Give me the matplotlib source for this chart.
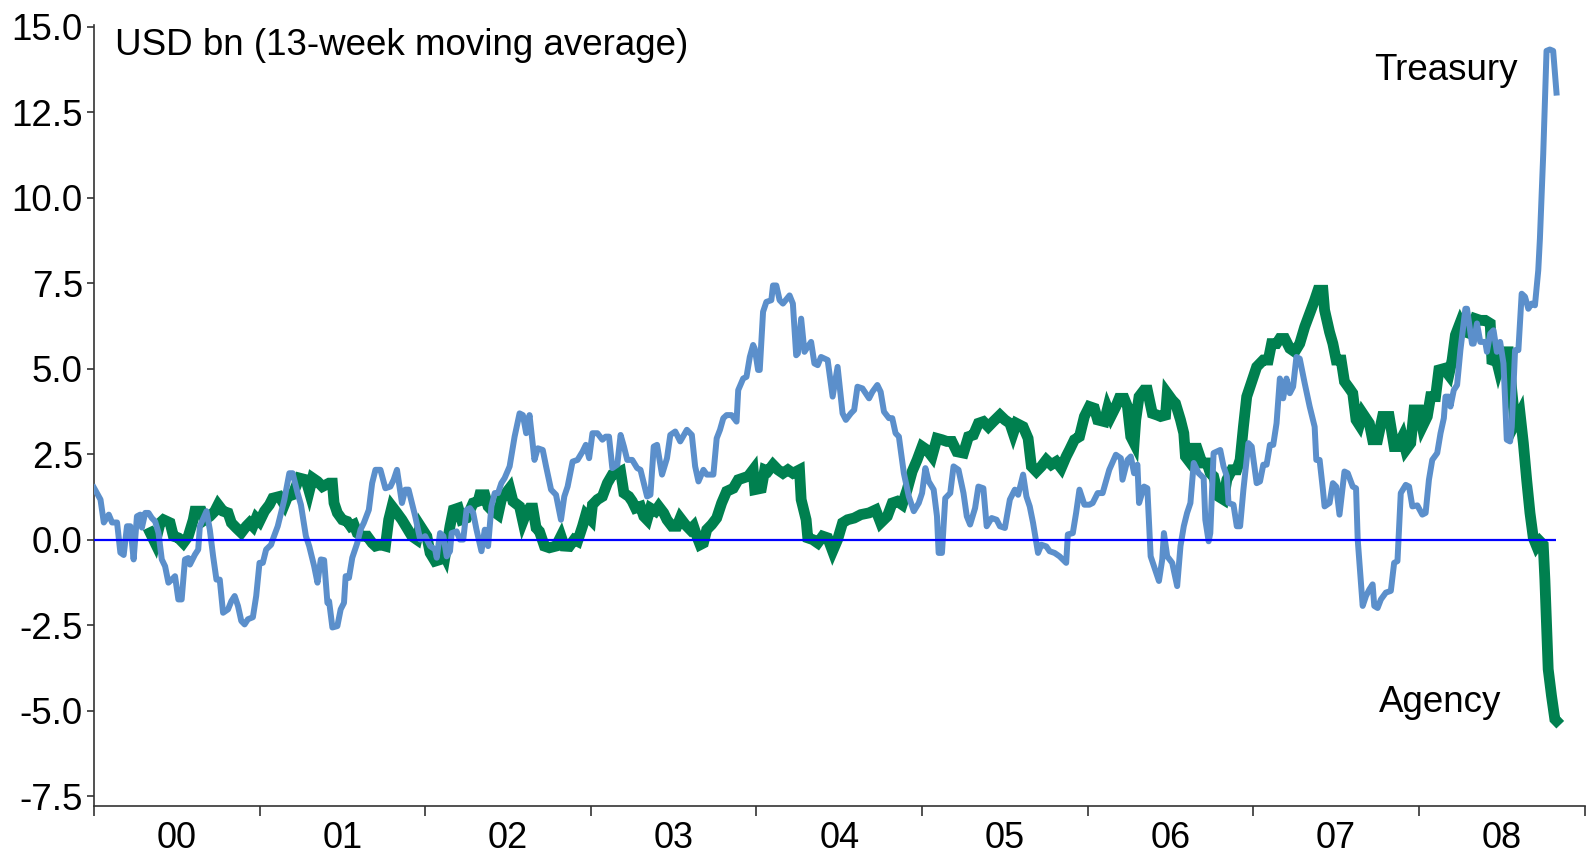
import matplotlib
matplotlib.use("Agg")
import matplotlib.pyplot as plt
from matplotlib.ticker import FixedLocator, NullFormatter, FixedFormatter

plt.rcParams['font.family'] = ['Liberation Sans', 'DejaVu Sans']
plt.rcParams['axes.unicode_minus'] = False

# weekly flows, USD bn, 13-week moving average
treasury_t = [2000.00, 2000.04, 2000.06, 2000.09, 2000.11, 2000.14, 2000.16, 2000.18, 2000.20, 2000.22,
              2000.24, 2000.26, 2000.28, 2000.29, 2000.31, 2000.33, 2000.35, 2000.37, 2000.39, 2000.41,
              2000.43, 2000.45, 2000.47, 2000.49, 2000.51, 2000.53, 2000.55, 2000.57, 2000.58, 2000.61,
              2000.63, 2000.64, 2000.68, 2000.70, 2000.72, 2000.74, 2000.76, 2000.78, 2000.81, 2000.83,
              2000.85, 2000.87, 2000.89, 2000.91, 2000.93, 2000.96, 2000.98, 2001.00, 2001.02, 2001.04,
              2001.07, 2001.08, 2001.11, 2001.13, 2001.15, 2001.18, 2001.20, 2001.23, 2001.25, 2001.28,
              2001.30, 2001.33, 2001.35, 2001.37, 2001.39, 2001.41, 2001.42, 2001.44, 2001.47, 2001.49,
              2001.51, 2001.52, 2001.54, 2001.56, 2001.59, 2001.61, 2001.63, 2001.66, 2001.68, 2001.70,
              2001.73, 2001.76, 2001.79, 2001.81, 2001.83, 2001.86, 2001.88, 2001.90, 2001.94, 2001.97,
              2002.00, 2002.03, 2002.06, 2002.07, 2002.09, 2002.11, 2002.13, 2002.15, 2002.16, 2002.19,
              2002.21, 2002.23, 2002.25, 2002.27, 2002.29, 2002.31, 2002.34, 2002.36, 2002.38, 2002.40,
              2002.42, 2002.44, 2002.46, 2002.48, 2002.51, 2002.54, 2002.57, 2002.59, 2002.61, 2002.63,
              2002.66, 2002.68, 2002.71, 2002.73, 2002.76, 2002.79, 2002.82, 2002.84, 2002.86, 2002.89,
              2002.92, 2002.95, 2002.97, 2002.99, 2003.01, 2003.04, 2003.07, 2003.09, 2003.11, 2003.13,
              2003.16, 2003.18, 2003.20, 2003.22, 2003.25, 2003.28, 2003.30, 2003.32, 2003.34, 2003.36,
              2003.38, 2003.40, 2003.43, 2003.46, 2003.48, 2003.51, 2003.54, 2003.58, 2003.61, 2003.63,
              2003.65, 2003.68, 2003.70, 2003.74, 2003.76, 2003.78, 2003.80, 2003.82, 2003.85, 2003.88,
              2003.89, 2003.92, 2003.94, 2003.96, 2003.98, 2003.99, 2004.01, 2004.02, 2004.04, 2004.06,
              2004.09, 2004.10, 2004.12, 2004.14, 2004.16, 2004.20, 2004.22, 2004.24, 2004.25, 2004.27,
              2004.29, 2004.31, 2004.33, 2004.35, 2004.37, 2004.39, 2004.43, 2004.46, 2004.49, 2004.52,
              2004.54, 2004.57, 2004.59, 2004.61, 2004.64, 2004.68, 2004.70, 2004.73, 2004.75, 2004.77,
              2004.80, 2004.82, 2004.84, 2004.86, 2004.89, 2004.92, 2004.95, 2004.98, 2005.00, 2005.02,
              2005.04, 2005.07, 2005.09, 2005.10, 2005.12, 2005.14, 2005.17, 2005.19, 2005.22, 2005.25,
              2005.27, 2005.29, 2005.32, 2005.34, 2005.37, 2005.39, 2005.42, 2005.45, 2005.47, 2005.50,
              2005.53, 2005.56, 2005.58, 2005.61, 2005.63, 2005.65, 2005.67, 2005.70, 2005.72, 2005.75,
              2005.77, 2005.80, 2005.83, 2005.87, 2005.88, 2005.91, 2005.93, 2005.95, 2005.98, 2006.01,
              2006.03, 2006.06, 2006.09, 2006.11, 2006.13, 2006.17, 2006.20, 2006.21, 2006.24, 2006.26,
              2006.28, 2006.30, 2006.31, 2006.34, 2006.36, 2006.38, 2006.40, 2006.43, 2006.45, 2006.46,
              2006.48, 2006.51, 2006.54, 2006.56, 2006.58, 2006.60, 2006.62, 2006.64, 2006.67, 2006.70,
              2006.71, 2006.73, 2006.74, 2006.76, 2006.80, 2006.82, 2006.84, 2006.85, 2006.88, 2006.90,
              2006.92, 2006.94, 2006.97, 2006.99, 2007.02, 2007.04, 2007.06, 2007.08, 2007.10, 2007.12,
              2007.14, 2007.16, 2007.18, 2007.20, 2007.22, 2007.24, 2007.26, 2007.28, 2007.31, 2007.34,
              2007.37, 2007.38, 2007.40, 2007.42, 2007.43, 2007.46, 2007.48, 2007.50, 2007.52, 2007.55,
              2007.57, 2007.60, 2007.62, 2007.63, 2007.66, 2007.68, 2007.70, 2007.72, 2007.73, 2007.75,
              2007.77, 2007.80, 2007.83, 2007.85, 2007.87, 2007.89, 2007.92, 2007.94, 2007.96, 2007.99,
              2008.02, 2008.04, 2008.06, 2008.08, 2008.11, 2008.13, 2008.15, 2008.16, 2008.18, 2008.19,
              2008.21, 2008.23, 2008.25, 2008.28, 2008.29, 2008.32, 2008.33, 2008.35, 2008.37, 2008.40,
              2008.41, 2008.43, 2008.45, 2008.47, 2008.49, 2008.51, 2008.52, 2008.53, 2008.55, 2008.56,
              2008.58, 2008.60, 2008.62, 2008.64, 2008.66, 2008.68, 2008.70, 2008.72, 2008.73, 2008.75,
              2008.77, 2008.79, 2008.81, 2008.83]
treasury_v = [1.52, 1.17, 0.50, 0.73, 0.50, 0.50, -0.38, -0.45, 0.39, 0.39,
              -0.58, 0.68, 0.73, 0.35, 0.78, 0.78, 0.63, 0.53, 0.20, -0.58,
              -0.78, -1.26, -1.17, -1.07, -1.75, -1.75, -0.58, -0.54, -0.73, -0.44,
              -0.29, 0.39, 0.83, 0.29, -0.49, -1.17, -1.17, -2.14, -2.04, -1.80,
              -1.65, -1.94, -2.38, -2.48, -2.33, -2.27, -1.65, -0.68, -0.68, -0.29,
              -0.15, 0.00, 0.39, 0.78, 1.17, 1.94, 1.94, 1.36, 1.02, 0.10,
              -0.19, -0.78, -1.26, -0.58, -0.60, -1.85, -1.80, -2.57, -2.53, -2.04,
              -1.85, -1.07, -1.12, -0.53, -0.10, 0.29, 0.49, 0.87, 1.65, 2.04,
              2.04, 1.50, 1.55, 1.75, 2.04, 1.07, 1.46, 1.46, 0.68, 0.00,
              0.10, -0.19, -0.29, -0.53, 0.19, 0.10, -0.49, -0.34, 0.19, 0.24,
              0.00, 0.00, 0.87, 0.92, 0.78, 0.29, -0.34, 0.29, -0.19, 0.97,
              1.36, 1.36, 1.65, 1.80, 2.14, 3.01, 3.69, 3.64, 3.11, 3.64,
              2.33, 2.67, 2.62, 2.14, 1.46, 1.31, 0.58, 1.26, 1.55, 2.28,
              2.33, 2.57, 2.77, 2.38, 3.11, 3.11, 2.92, 3.01, 3.01, 2.09,
              2.19, 3.06, 2.72, 2.33, 2.33, 2.09, 2.04, 1.65, 1.26, 1.31,
              2.72, 2.77, 1.90, 2.38, 3.06, 3.16, 2.87, 3.21, 3.06, 2.14,
              1.70, 2.04, 1.90, 1.90, 2.96, 3.21, 3.55, 3.64, 3.64, 3.45,
              4.37, 4.71, 4.76, 5.34, 5.69, 5.58, 4.96, 4.96, 6.66, 6.95,
              7.00, 7.43, 7.43, 7.00, 6.90, 7.14, 6.90, 5.39, 5.44, 6.46,
              5.49, 5.64, 5.78, 5.15, 5.10, 5.34, 5.25, 4.18, 5.05, 3.69,
              3.50, 3.69, 3.79, 4.47, 4.42, 4.13, 4.32, 4.52, 4.32, 3.74,
              3.55, 3.55, 3.11, 3.01, 1.94, 1.26, 0.83, 1.07, 1.36, 2.09,
              1.70, 1.46, 0.68, -0.39, -0.39, 1.21, 1.36, 2.14, 2.04, 1.36,
              0.68, 0.44, 0.92, 1.55, 1.50, 0.39, 0.63, 0.58, 0.39, 0.34,
              1.17, 1.46, 1.31, 1.90, 1.26, 0.97, 0.49, -0.39, -0.15, -0.20,
              -0.34, -0.39, -0.49, -0.68, 0.15, 0.19, 0.78, 1.46, 1.02, 1.02,
              1.07, 1.36, 1.36, 1.70, 2.04, 2.48, 2.38, 1.75, 2.33, 2.43,
              1.94, 2.19, 1.07, 1.55, 1.50, -0.49, -0.78, -1.21, -0.58, 0.19,
              -0.49, -0.68, -1.36, -0.19, 0.39, 0.78, 1.07, 2.24, 1.94, 1.80,
              0.58, -0.05, 0.19, 2.53, 2.62, 2.14, 1.85, 1.07, 1.02, 0.39,
              0.39, 1.46, 2.82, 2.72, 1.65, 1.70, 2.19, 2.19, 2.77, 2.77,
              3.40, 4.71, 4.13, 4.71, 4.28, 4.47, 5.34, 5.29, 4.57, 3.89,
              3.30, 2.33, 2.33, 1.46, 0.97, 1.07, 1.65, 1.55, 0.73, 1.99,
              1.94, 1.55, 1.50, 0.00, -1.94, -1.65, -1.46, -1.31, -1.94, -2.00,
              -1.75, -1.55, -1.50, -0.68, -0.63, 1.36, 1.60, 1.55, 0.97, 1.00,
              0.73, 0.78, 1.75, 2.33, 2.53, 3.11, 3.55, 4.18, 4.18, 3.89,
              4.37, 4.52, 5.54, 6.75, 6.75, 5.73, 5.73, 6.32, 5.78, 5.78,
              5.49, 6.02, 6.12, 5.49, 5.78, 5.15, 4.08, 2.92, 2.87, 3.30,
              5.54, 5.54, 7.19, 7.10, 6.75, 6.90, 6.85, 7.87, 8.80, 11.27,
              14.29, 14.33, 14.29, 13.07]

agency_t = [2000.34, 2000.37, 2000.40, 2000.42, 2000.46, 2000.48, 2000.51, 2000.54, 2000.57, 2000.60,
            2000.61, 2000.65, 2000.67, 2000.70, 2000.73, 2000.75, 2000.78, 2000.81, 2000.83, 2000.86,
            2000.89, 2000.92, 2000.94, 2000.96, 2000.98, 2001.00, 2001.03, 2001.06, 2001.08, 2001.12,
            2001.15, 2001.17, 2001.20, 2001.24, 2001.28, 2001.30, 2001.32, 2001.35, 2001.38, 2001.40,
            2001.42, 2001.44, 2001.45, 2001.47, 2001.50, 2001.53, 2001.55, 2001.57, 2001.59, 2001.62,
            2001.65, 2001.68, 2001.70, 2001.73, 2001.76, 2001.78, 2001.80, 2001.83, 2001.86, 2001.89,
            2001.92, 2001.95, 2001.97, 2002.01, 2002.03, 2002.06, 2002.08, 2002.10, 2002.12, 2002.15,
            2002.17, 2002.20, 2002.22, 2002.25, 2002.29, 2002.32, 2002.33, 2002.36, 2002.38, 2002.40,
            2002.44, 2002.46, 2002.48, 2002.51, 2002.53, 2002.57, 2002.59, 2002.61, 2002.63, 2002.65,
            2002.67, 2002.69, 2002.72, 2002.75, 2002.79, 2002.82, 2002.84, 2002.87, 2002.90, 2002.92,
            2002.95, 2002.97, 2003.00, 2003.01, 2003.04, 2003.07, 2003.10, 2003.13, 2003.16, 2003.18,
            2003.20, 2003.23, 2003.25, 2003.27, 2003.30, 2003.32, 2003.34, 2003.36, 2003.39, 2003.41,
            2003.44, 2003.46, 2003.49, 2003.52, 2003.54, 2003.57, 2003.60, 2003.62, 2003.64, 2003.66,
            2003.68, 2003.70, 2003.73, 2003.76, 2003.79, 2003.82, 2003.86, 2003.89, 2003.92, 2003.95,
            2003.98, 2003.99, 2004.03, 2004.05, 2004.07, 2004.10, 2004.13, 2004.16, 2004.19, 2004.22,
            2004.26, 2004.27, 2004.30, 2004.31, 2004.34, 2004.37, 2004.40, 2004.43, 2004.46, 2004.49,
            2004.52, 2004.55, 2004.59, 2004.63, 2004.68, 2004.72, 2004.75, 2004.79, 2004.82, 2004.85,
            2004.88, 2004.91, 2004.94, 2004.97, 2005.00, 2005.03, 2005.06, 2005.09, 2005.12, 2005.15,
            2005.18, 2005.21, 2005.25, 2005.28, 2005.31, 2005.34, 2005.37, 2005.40, 2005.43, 2005.47,
            2005.50, 2005.53, 2005.55, 2005.57, 2005.61, 2005.64, 2005.66, 2005.69, 2005.72, 2005.75,
            2005.78, 2005.81, 2005.84, 2005.87, 2005.89, 2005.92, 2005.95, 2005.98, 2006.01, 2006.04,
            2006.06, 2006.10, 2006.12, 2006.14, 2006.17, 2006.19, 2006.22, 2006.24, 2006.26, 2006.28,
            2006.29, 2006.31, 2006.34, 2006.36, 2006.39, 2006.42, 2006.44, 2006.47, 2006.48, 2006.51,
            2006.53, 2006.56, 2006.58, 2006.59, 2006.62, 2006.63, 2006.66, 2006.69, 2006.72, 2006.74,
            2006.76, 2006.79, 2006.82, 2006.84, 2006.87, 2006.90, 2006.92, 2006.94, 2006.96, 2006.99,
            2007.02, 2007.06, 2007.09, 2007.11, 2007.14, 2007.16, 2007.19, 2007.22, 2007.25, 2007.28,
            2007.31, 2007.34, 2007.37, 2007.39, 2007.42, 2007.43, 2007.46, 2007.48, 2007.50, 2007.53,
            2007.55, 2007.58, 2007.60, 2007.62, 2007.64, 2007.66, 2007.70, 2007.72, 2007.75, 2007.78,
            2007.82, 2007.85, 2007.87, 2007.90, 2007.92, 2007.95, 2007.97, 2008.00, 2008.02, 2008.05,
            2008.07, 2008.10, 2008.12, 2008.15, 2008.18, 2008.20, 2008.22, 2008.25, 2008.28, 2008.31,
            2008.34, 2008.37, 2008.40, 2008.43, 2008.44, 2008.47, 2008.48, 2008.51, 2008.54, 2008.56,
            2008.58, 2008.61, 2008.63, 2008.65, 2008.67, 2008.69, 2008.71, 2008.73, 2008.75, 2008.76,
            2008.78, 2008.80, 2008.82, 2008.83]
agency_v = [0.20, -0.10, 0.49, 0.58, 0.49, 0.10, 0.05, -0.10, 0.10, 0.58,
            0.83, 0.83, 0.58, 0.68, 0.83, 1.02, 0.83, 0.78, 0.49, 0.34,
            0.20, 0.39, 0.49, 0.39, 0.63, 0.53, 0.83, 1.02, 1.21, 1.26,
            1.02, 1.26, 1.31, 1.80, 1.75, 1.41, 1.80, 1.70, 1.55, 1.60,
            1.65, 1.65, 1.07, 0.78, 0.58, 0.53, 0.39, 0.44, 0.19, 0.10,
            0.10, -0.10, -0.19, -0.15, -0.19, 0.58, 0.97, 0.78, 0.58, 0.34,
            0.10, 0.00, 0.40, 0.10, -0.39, -0.63, -0.60, -0.29, -0.49, 0.39,
            0.87, 0.92, 0.58, 0.63, 1.07, 1.12, 1.31, 1.31, 0.97, 0.87,
            0.73, 1.17, 1.31, 1.50, 1.12, 0.97, 0.53, 0.78, 0.92, 0.92,
            0.34, 0.24, -0.19, -0.24, -0.19, 0.10, -0.19, -0.20, 0.00, -0.05,
            0.39, 0.73, 0.58, 1.02, 1.17, 1.26, 1.65, 1.90, 1.94, 1.99,
            1.36, 1.26, 1.12, 0.92, 0.97, 0.68, 0.58, 0.92, 0.83, 0.97,
            0.78, 0.58, 0.39, 0.39, 0.63, 0.44, 0.29, 0.39, 0.10, -0.15,
            -0.10, 0.29, 0.44, 0.63, 1.07, 1.41, 1.50, 1.75, 1.80, 1.85,
            2.04, 1.46, 1.50, 2.04, 2.00, 2.19, 2.04, 1.94, 2.04, 1.94,
            2.04, 1.17, 0.58, 0.05, 0.00, -0.10, 0.10, 0.05, -0.34, 0.00,
            0.49, 0.58, 0.63, 0.73, 0.78, 0.87, 0.49, 0.68, 1.07, 1.12,
            1.02, 1.46, 1.99, 2.33, 2.72, 2.62, 2.43, 2.96, 2.92, 2.87,
            2.87, 2.57, 2.53, 3.01, 3.06, 3.40, 3.45, 3.30, 3.45, 3.64,
            3.50, 3.40, 3.11, 3.40, 3.30, 2.96, 2.14, 1.99, 2.14, 2.33,
            2.19, 2.28, 2.09, 2.43, 2.62, 2.92, 3.01, 3.60, 3.89, 3.84,
            3.50, 3.45, 3.84, 3.60, 3.89, 4.13, 4.13, 3.89, 3.01, 2.82,
            3.50, 4.18, 4.37, 4.37, 3.69, 3.64, 3.60, 3.64, 4.28, 4.08,
            3.98, 3.50, 3.11, 2.43, 2.24, 2.67, 2.67, 2.24, 2.24, 1.94,
            1.85, 1.26, 1.17, 1.75, 2.04, 2.04, 2.33, 3.30, 4.18, 4.62,
            5.05, 5.25, 5.25, 5.73, 5.73, 5.88, 5.88, 5.59, 5.49, 5.73,
            6.22, 6.61, 7.00, 7.29, 7.29, 6.71, 6.07, 5.73, 5.25, 5.25,
            4.62, 4.42, 4.28, 3.50, 3.35, 3.69, 3.40, 2.92, 2.92, 3.60,
            3.60, 2.72, 2.72, 3.01, 2.62, 2.82, 3.79, 3.79, 3.30, 3.60,
            4.18, 4.18, 4.96, 5.00, 4.81, 5.25, 5.98, 6.36, 6.07, 6.02,
            6.46, 6.41, 6.41, 6.32, 5.25, 5.20, 5.00, 5.49, 5.49, 4.37,
            3.40, 3.69, 2.82, 1.75, 0.78, 0.05, -0.19, -0.05, -0.15, -1.17,
            -3.79, -4.57, -5.25, -5.30]

years = list(range(2000, 2010))
year_labels = ['00', '01', '02', '03', '04', '05', '06', '07', '08']
y_ticks = [-7.5, -5.0, -2.5, 0.0, 2.5, 5.0, 7.5, 10.0, 12.5, 15.0]

fig = plt.figure(figsize=(15.91, 8.58), dpi=100)
ax = fig.add_axes([0.059, 0.061, 0.937, 0.910])

ax.plot(agency_t, agency_v, color='#00804f', linewidth=7.8, solid_joinstyle='miter', zorder=2)
ax.plot(treasury_t, treasury_v, color='#5b8fcb', linewidth=4.3, zorder=3)
ax.hlines(0, treasury_t[0], treasury_t[-1], color='#0000ff', linewidth=1.6, zorder=4)

ax.set_xlim(2000, 2009)
ax.set_ylim(-7.78, 15.05)

ax.xaxis.set_major_locator(FixedLocator(years))
ax.xaxis.set_major_formatter(NullFormatter())
ax.xaxis.set_minor_locator(FixedLocator([y + 0.5 for y in years[:-1]]))
ax.xaxis.set_minor_formatter(FixedFormatter(year_labels))
ax.tick_params(axis='x', which='major', direction='out', length=7, width=1.2, color='#333333')
ax.tick_params(axis='x', which='minor', length=0, pad=11, labelsize=26)

ax.set_yticks(y_ticks)
ax.set_yticklabels([f'{v:.1f}' for v in y_ticks])
ax.tick_params(axis='y', direction='out', length=5, width=1.2, color='#333333', pad=3, labelsize=26.5)

for side in ['top', 'right']:
    ax.spines[side].set_visible(False)
for side in ['left', 'bottom']:
    ax.spines[side].set_linewidth(1.2)
    ax.spines[side].set_color('#333333')

ax.text(0.014, 0.974, 'USD bn (13-week moving average)', transform=ax.transAxes,
        fontsize=26.5, ha='left', va='center')
ax.text(0.955, 0.942, 'Treasury', transform=ax.transAxes, fontsize=26.5, ha='right', va='center')
ax.text(0.944, 0.132, 'Agency', transform=ax.transAxes, fontsize=26.5, ha='right', va='center')

fig.savefig('out.png', dpi=100)
